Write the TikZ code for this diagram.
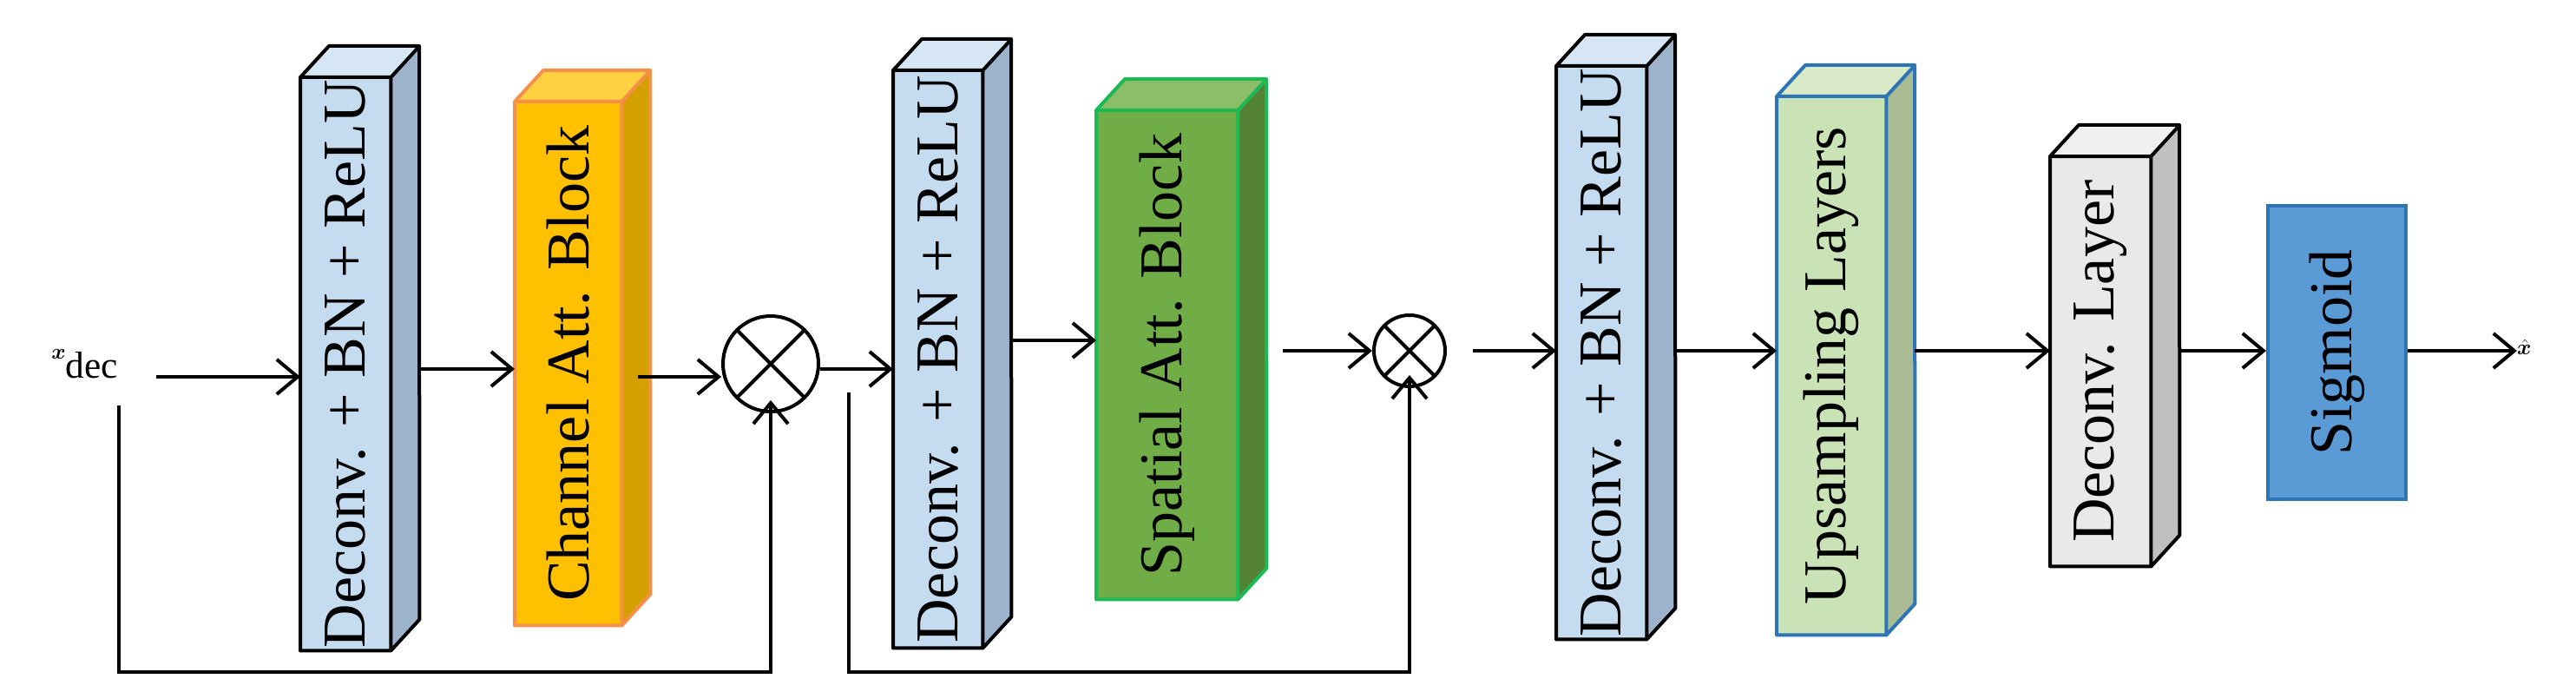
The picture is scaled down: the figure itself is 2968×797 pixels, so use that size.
\documentclass[tikz,border=0pt]{standalone}
\usepackage{fontspec}
\setmainfont{Liberation Serif}
\usepackage{amsmath,bm}
\usetikzlibrary{arrows.meta}
\definecolor{bfront}{HTML}{C5DCF0}\definecolor{btop}{HTML}{D6E6F5}\definecolor{bside}{HTML}{9DB3CC}
\definecolor{cfront}{HTML}{FFC000}\definecolor{ctop}{HTML}{FFD040}\definecolor{cside}{HTML}{D4A000}\definecolor{cedge}{HTML}{F4904A}
\definecolor{sfront}{HTML}{70AD47}\definecolor{stop}{HTML}{8CBE6A}\definecolor{sside}{HTML}{548235}\definecolor{sedge}{HTML}{1DB954}
\definecolor{ufront}{HTML}{C9E2B6}\definecolor{utop}{HTML}{D8EAC8}\definecolor{uside}{HTML}{A9BC94}\definecolor{uedge}{HTML}{2E75B6}
\definecolor{dfront}{HTML}{E9E9E9}\definecolor{dtop}{HTML}{F0F0F0}\definecolor{dside}{HTML}{C0C0C0}
\definecolor{sigf}{HTML}{5B9BD5}\definecolor{sige}{HTML}{2E75B6}
% \mycube{name}{xl}{xr}{ytop}{ybot}{dx}{dy}{front}{top}{side}{edge}{text}
\newcommand\mycube[9]{%
  \node[draw=#9, fill=#6, line width=4pt, inner sep=0pt, anchor=north west,
        minimum width=#3-#2, minimum height=#5-#4] (#1) at (#2,#4) {};
  \filldraw[draw=#9, fill=#7, line width=4pt, line join=round]
    (#1.north west) -- ++(33,-36) -- ++(#3-#2,0) -- ([xshift=33pt,yshift=36pt]#1.south east) -- (#1.south east) -- (#1.north east) -- cycle;
  \draw[draw=#9, line width=4pt, line join=round] (#1.north east) -- ++(33,-36);
}
\newcommand\myside[2]{%
  \fill[#2] (#1.north east) -- ++(33,-36) -- ([xshift=33pt,yshift=36pt]#1.south east) -- (#1.south east) -- cycle;
}
\begin{document}
\begin{tikzpicture}[x=1pt,y=-1pt,
  txt/.style={font=\fontsize{70}{80}\selectfont, rotate=90},
  arr/.style={-{Straight Barb[length=24pt,width=40pt,line width=4pt]}, line width=4pt},
  otim/.style={circle, draw, line width=4pt, inner sep=0pt, path picture={
     \draw[line width=4pt] (path picture bounding box.north west) -- (path picture bounding box.south east)
       (path picture bounding box.north east) -- (path picture bounding box.south west);}}]
\useasboundingbox (0,0) rectangle (2968,797);
% generic cuboid drawing
\def\cub#1#2#3#4#5#6#7#8#9{%
  \node[fill=#6, inner sep=0pt, anchor=north west, minimum width=#3-#2, minimum height=#5-#4] (#1) at (#2,#4) {};
  \fill[#7] (#1.north west) -- ++(33,-36) -- ++(#3-#2,0) -- (#1.north east) -- cycle;
  \fill[#8] (#1.north east) -- ++(33,-36) -- ([shift={(33,-36)}]#1.south east) -- (#1.south east) -- cycle;
  \draw[#9, line width=4pt, line join=round] (#1.north west) -- ++(33,-36) -- ++(#3-#2,0) -- ([shift={(33,-36)}]#1.south east) -- (#1.south east) -- (#1.south west) -- cycle
    (#1.north west) -- (#1.north east) -- ++(33,-36) (#1.north east) -- (#1.south east);}
\cub{b1}{346}{450}{89}{749}{bfront}{btop}{bside}{black}
\cub{ch}{593}{716}{117}{720}{cfront}{ctop}{cside}{cedge}
\cub{b2}{1029}{1132}{81}{746}{bfront}{btop}{bside}{black}
\cub{sp}{1263}{1426}{127}{690}{sfront}{stop}{sside}{sedge}
\cub{b3}{1793}{1897}{76}{736}{bfront}{btop}{bside}{black}
\cub{up}{2047}{2173}{111}{731}{ufront}{utop}{uside}{uedge}
\cub{dl}{2362}{2478}{180}{652}{dfront}{dtop}{dside}{black}
\node[txt] at (b1) {Deconv. + BN + ReLU};
\node[txt] at (ch) {Channel Att. Block};
\node[txt] at (b2) {Deconv. + BN + ReLU};
\node[txt] at (sp) {Spatial Att. Block};
\node[txt] at (b3) {Deconv. + BN + ReLU};
\node[txt] at (up) {Upsampling Layers};
\node[txt] at (dl) {Deconv. Layer};
\node[draw=sige, fill=sigf, line width=4pt, inner sep=0pt, anchor=north west,
      minimum width=159, minimum height=338] (sg) at (2611,235) {};
\node[txt] at (sg) {Sigmoid};
\node[otim, minimum size=110] (m1) at (888,419) {};
\node[otim, minimum size=82] (m2) at (1624,404) {};
\node[anchor=center, font=\fontsize{62}{70}\selectfont] (xin) at (98,419) {$\bm{x}_{\mathrm{dec}}$};
\node[anchor=west, font=\fontsize{62}{70}\selectfont, inner sep=0pt] (xout) at (2900,400) {$\hat{\bm{x}}$};
\coordinate (s1) at (137,467);
\coordinate (s2) at (978,452);
% connectors
\draw[arr] (180,434) -- (b1.west |- 0,434);
\draw[arr] (483,425) -- (ch.west |- 0,425);
\draw[arr] (735,434) -- (m1.west |- 0,434);
\draw[arr] (m1.east |- 0,425) -- (b2.west |- 0,425);
\draw[arr] (1166,392) -- (sp.west |- 0,392);
\draw[arr] (1478,404) -- (m2.west);
\draw[arr] (m2.east) ++(30,0) -- (b3.west |- 0,404);
\draw[arr] (1931,404) -- (up.west |- 0,404);
\draw[arr] (2206,404) -- (dl.west |- 0,404);
\draw[arr] (2511,404) -- (sg.west |- 0,404);
\draw[arr] (sg.east |- 0,404) -- (xout.west |- 0,404);
\draw[arr] (s1) -- (137,774) -- (m1.south |- 0,774) -- ([yshift=15pt]m1.south);
\draw[arr] (s2) -- (978,774) -- (m2.south |- 0,774) -- ([yshift=15pt]m2.south);
\end{tikzpicture}
\end{document}
